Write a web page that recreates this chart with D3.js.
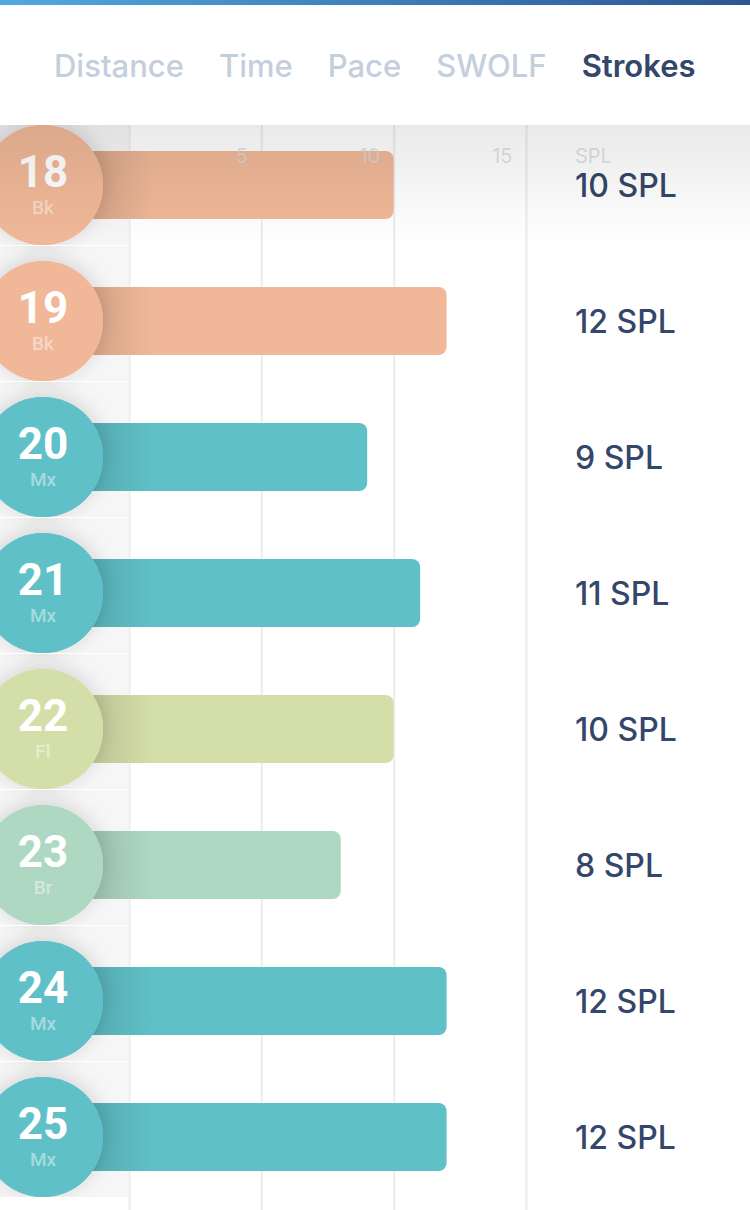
<!DOCTYPE html>
<html><head><meta charset="utf-8">
<script src="https://cdn.jsdelivr.net/npm/d3@7"></script>
<style>html,body{margin:0;padding:0;background:#fff;}svg{display:block;}</style>
</head><body>
<svg id="chart" width="750" height="1210"></svg>
<script>
const tabs = ["Distance","Time","Pace","SWOLF","Strokes"];
const activeTab = "Strokes";
const laps = [18,19,20,21,22,23,24,25];
const strokeTypes = ["Bk","Bk","Mx","Mx","Fl","Br","Mx","Mx"];
const spl = [10,12,9,11,10,8,12,12];
const tickValues = [5,10,15];
const unitLabel = "SPL";
const strokeColors = {Bk:"#f0b898", Mx:"#60c0c7", Fl:"#d4dea8", Br:"#aed8c1"};

const W = 750, H = 1210, headerH = 125;
const svg = d3.select("#chart");
const defs = svg.append("defs");

const x = d3.scaleLinear().domain([0,15]).range([129,526]);
const y = d3.scaleBand().domain(laps).range([117, 117 + 136*laps.length]).padding(0);

// gradients
const topG = defs.append("linearGradient").attr("id","topg");
topG.append("stop").attr("offset","0%").attr("stop-color","#52a8e0");
topG.append("stop").attr("offset","100%").attr("stop-color","#2b5693");
const hs = defs.append("linearGradient").attr("id","hshadow").attr("x1",0).attr("y1",0).attr("x2",0).attr("y2",1);
hs.append("stop").attr("offset","0%").attr("stop-color","#000").attr("stop-opacity",0.085);
hs.append("stop").attr("offset","100%").attr("stop-color","#000").attr("stop-opacity",0);
const bs = defs.append("linearGradient").attr("id","bshadow");
bs.append("stop").attr("offset","0%").attr("stop-color","#000").attr("stop-opacity",0.11);
bs.append("stop").attr("offset","100%").attr("stop-color","#000").attr("stop-opacity",0);
const f = defs.append("filter").attr("id","cshadow").attr("x","-50%").attr("y","-50%").attr("width","200%").attr("height","200%");
f.append("feDropShadow").attr("dx",0).attr("dy",-3).attr("stdDeviation",10).attr("flood-color","#000").attr("flood-opacity",0.15);
defs.append("clipPath").attr("id","panelclip").selectAll("rect").data(laps).join("rect")
  .attr("x",0).attr("width",128).attr("y",d=>y(d)+68-75).attr("height",135);

// left panels
svg.append("g").selectAll("rect").data(laps).join("rect")
  .attr("x",0).attr("width",128).attr("y",d=>y(d)+68-75).attr("height",135).attr("fill","#f6f6f7");

// grid via axis
const gridAxis = d3.axisBottom(x).tickValues([0].concat(tickValues)).tickSize(H-headerH).tickFormat("");
const grid = svg.append("g").attr("transform",`translate(0,${headerH})`).call(gridAxis);
grid.select(".domain").remove();
grid.selectAll(".tick line").attr("stroke","#ececee").attr("stroke-width",2);

// bars
const rows = svg.append("g").selectAll("g").data(laps).join("g");
rows.append("rect")
  .attr("x",43).attr("y",d=>y(d)+68-34).attr("height",68)
  .attr("width",(d,i)=>x(spl[i])-43).attr("rx",8)
  .attr("fill",(d,i)=>strokeColors[strokeTypes[i]]);
rows.append("rect")
  .attr("x",92).attr("y",d=>y(d)+68-34).attr("height",68).attr("width",62)
  .attr("fill","url(#bshadow)");

// circles
const circ = svg.append("g");
circ.append("g").attr("clip-path","url(#panelclip)").selectAll("circle").data(laps).join("circle")
  .attr("cx",43).attr("cy",d=>y(d)+68).attr("r",60)
  .attr("fill",(d,i)=>strokeColors[strokeTypes[i]]).attr("filter","url(#cshadow)");
circ.append("g").selectAll("circle").data(laps).join("circle")
  .attr("cx",43).attr("cy",d=>y(d)+68).attr("r",60)
  .attr("fill",(d,i)=>strokeColors[strokeTypes[i]]);
circ.append("g").selectAll("text").data(laps).join("text")
  .attr("x",43).attr("y",d=>y(d)+68+2).attr("text-anchor","middle")
  .attr("font-family","Roboto").attr("font-weight",700).attr("font-size",44)
  .attr("fill","#fff").text(d=>d);
circ.append("g").selectAll("text").data(laps).join("text")
  .attr("x",43).attr("y",d=>y(d)+68+29).attr("text-anchor","middle")
  .attr("font-family","Roboto").attr("font-weight",500).attr("font-size",19)
  .attr("fill","#fff").attr("fill-opacity",0.45).text((d,i)=>strokeTypes[i]);

// value labels
svg.append("g").selectAll("text").data(laps).join("text")
  .attr("x",575).attr("y",d=>y(d)+68+12)
  .attr("font-family","Inter").attr("font-weight",500).attr("font-size",32)
  .attr("fill","#34466a").text((d,i)=>`${spl[i]} ${unitLabel}`);

// tick labels via axis
const tickAxis = d3.axisTop(x).tickValues(tickValues).tickSize(0).tickPadding(0);
const ta = svg.append("g").attr("transform",`translate(0,163)`).call(tickAxis);
ta.select(".domain").remove();
ta.selectAll(".tick text").attr("text-anchor","end").attr("dx",-14).attr("dy",0)
  .attr("font-family","Inter").attr("font-size",20).attr("fill","#d6d7dc").attr("fill-opacity",0.75);
svg.append("text").attr("x",575).attr("y",163)
  .attr("font-family","Inter").attr("font-size",20).attr("fill","#d6d7dc").attr("fill-opacity",0.75).text(unitLabel);

// header shadow
svg.append("rect").attr("x",0).attr("y",headerH).attr("width",W).attr("height",120).attr("fill","url(#hshadow)");

// header
svg.append("rect").attr("x",0).attr("y",0).attr("width",W).attr("height",headerH).attr("fill","#fff");
svg.append("rect").attr("x",0).attr("y",0).attr("width",W).attr("height",5).attr("fill","url(#topg)");
const tabText = svg.append("g").selectAll("text").data(tabs).join("text")
  .attr("y",77)
  .attr("font-family","Inter").attr("font-size",31)
  .attr("font-weight",d=>d===activeTab?600:500)
  .attr("fill",d=>d===activeTab?"#34466a":"#c5cedc").text(d=>d);
// flow layout: words separated by a fixed gap
let cx = 54;
tabText.each(function(){ d3.select(this).attr("x",cx); cx += this.getComputedTextLength() + 35; });
</script>
</body></html>
